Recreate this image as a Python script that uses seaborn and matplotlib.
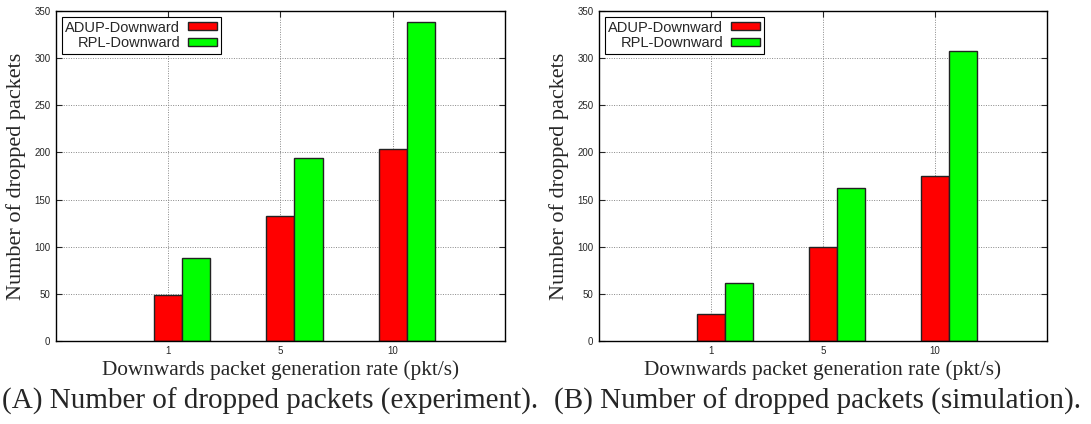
import numpy as np
import pandas as pd
import seaborn as sns
import matplotlib.pyplot as plt
from matplotlib.patches import Patch

# data
rates = ["1", "5", "10"]
series = ["ADUP-Downward", "RPL-Downward"]
exp_adup = [49, 132, 204]
exp_rpl = [88, 194, 338]
sim_adup = [29, 100, 175]
sim_rpl = [61, 162, 308]
captions = ["(A) Number of dropped packets (experiment).",
            "(B) Number of dropped packets (simulation)."]
colors = {"ADUP-Downward": "#ff0000", "RPL-Downward": "#00ff00"}

sns.set_style("ticks")
plt.rcParams['font.family'] = ['Liberation Sans', 'DejaVu Sans']


def make_df(adup, rpl):
    rows = []
    for r, a, b in zip(rates, adup, rpl):
        rows.append({"rate": r, "protocol": series[0], "dropped": a})
        rows.append({"rate": r, "protocol": series[1], "dropped": b})
    return pd.DataFrame(rows)


fig = plt.figure(figsize=(10.91, 4.24), dpi=100)
ax1 = fig.add_axes([0.0513, 0.196, 0.4115, 0.778])
ax2 = fig.add_axes([0.549, 0.196, 0.4106, 0.778])

for ax, adup, rpl, cap, cx in [(ax1, exp_adup, exp_rpl, captions[0], 270),
                               (ax2, sim_adup, sim_rpl, captions[1], 817)]:
    df = make_df(adup, rpl)
    sns.barplot(data=df, x="rate", y="dropped", hue="protocol",
                palette=colors, width=0.5, edgecolor="#222222",
                linewidth=1.0, saturation=1, ax=ax, legend=False)
    # gnuplot-style: ticks sit on the first bar of each group
    ax.set_xticks([i - 0.125 for i in range(len(rates))])
    ax.set_xticklabels(rates, fontsize=7)
    ax.set_xlim(-1.125, 2.875)
    ax.set_ylim(0, 350)
    ax.set_yticks(np.arange(0, 351, 50))
    ax.tick_params(axis="y", labelsize=7)
    ax.tick_params(direction="in", top=True, right=True, length=4, width=0.8, pad=4)
    ax.set_axisbelow(True)
    ax.grid(True, linestyle=(0, (1, 1.5)), color="#888888", linewidth=0.7)
    for s in ax.spines.values():
        s.set_visible(True)
        s.set_color("black")
        s.set_linewidth(1.0)
    ax.set_ylabel("Number of dropped packets", family=["Liberation Serif"],
                  fontsize=16, labelpad=6)
    ax.set_xlabel("Downwards packet generation rate (pkt/s)",
                  family=["Liberation Serif"], fontsize=15.3, labelpad=3)
    handles = [Patch(facecolor=colors[s], edgecolor="#222222", linewidth=1.0)
               for s in series]
    leg = ax.legend(handles, series, loc="upper left", markerfirst=False,
                    fontsize=10.5, frameon=True, fancybox=False,
                    edgecolor="black", framealpha=1, handlelength=2.0,
                    handleheight=0.5, borderaxespad=0.4, labelspacing=0.1,
                    borderpad=0.25, handletextpad=0.5)
    leg.get_frame().set_linewidth(0.8)
    for t in leg.get_texts():
        t.set_ha("right")
    fig.text(cx / 1091, 0.054, cap, ha="center", va="center",
             family=["Liberation Serif"], fontsize=21)

fig.savefig("out.png", dpi=100)
